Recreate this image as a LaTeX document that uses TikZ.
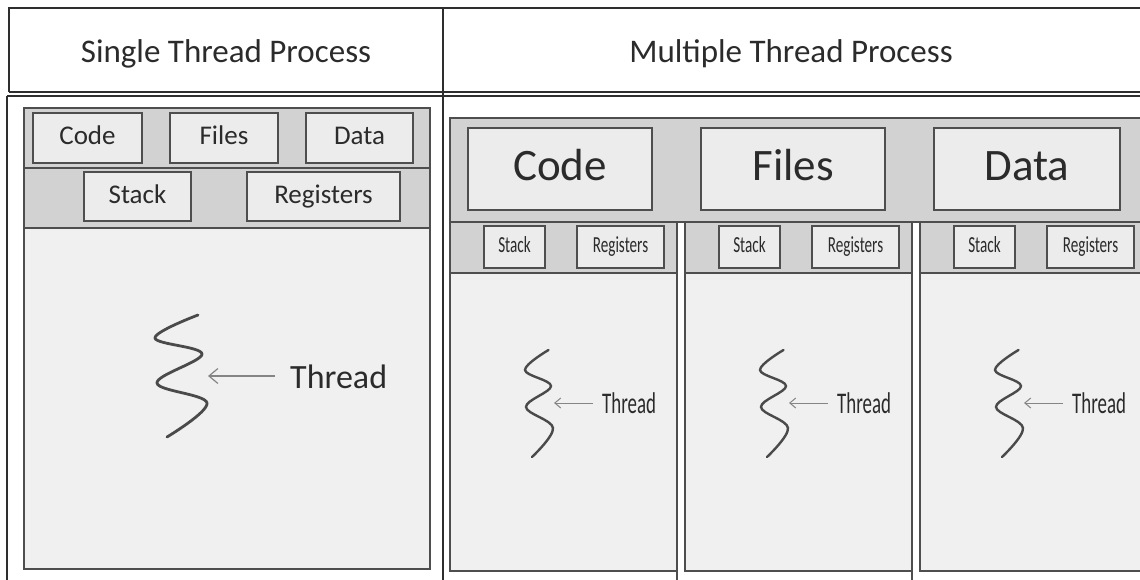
\documentclass[tikz,border=0pt]{standalone}
\usepackage{fontspec}
\setmainfont{Carlito}
\usetikzlibrary{arrows.meta}

\definecolor{ink}{HTML}{2B2B2B}
\definecolor{frame}{HTML}{2E2E2E}
\definecolor{boxline}{HTML}{4E4E4E}
\definecolor{band}{HTML}{D2D2D2}
\definecolor{pane}{HTML}{F0F0F0}
\definecolor{cell}{HTML}{ECECEC}
\definecolor{squig}{HTML}{4A4A4A}
\definecolor{pointer}{HTML}{858585}

% condensed lettering used inside the thread columns
\newcommand{\slim}[1]{\scalebox{0.66}[1]{#1}}

\begin{document}
\begin{tikzpicture}[x=1pt,y=-1pt,
  title/.style={text=ink, inner sep=0pt, font=\fontsize{33}{36}\selectfont},
  cellbox/.style={draw=boxline, line width=1.3pt, fill=cell, text=ink, inner sep=0pt},
  midcell/.style={cellbox, font=\fontsize{27}{30}\selectfont, text height=19pt, text depth=5pt},
  bigcell/.style={cellbox, font=\fontsize{45}{50}\selectfont, text height=31.5pt, text depth=8.5pt},
  smallcell/.style={cellbox, line width=1.1pt, font=\fontsize{23}{26}\selectfont, text height=16pt, text depth=4.3pt},
  threadtext/.style={text=ink, inner sep=0pt},
  pointer/.style={draw=pointer, line width=1.2pt, -{Straight Barb[length=9pt,width=15pt,line width=1.2pt]}},
  smallpointer/.style={draw=pointer, line width=1pt, -{Straight Barb[length=6pt,width=10pt,line width=1pt]}},
  squiggle/.style={draw=squig, line width=2.8pt, line cap=round},
  paneline/.style={draw=boxline, line width=1.2pt},
  frameline/.style={draw=frame, line width=1.5pt}
]
\clip (0,0) rectangle (1140,580);
\fill[white] (0,0) rectangle (1140,580);

% ---------- table frame ----------
\draw[frameline] (9,92) -- (9,8) -- (1145,8);
\draw[frameline, line width=2pt] (9,92) -- (1145,92);
\draw[frameline, line width=1.1pt] (7,96) -- (1145,96);
\draw[frameline] (7,96) -- (7,585);
\draw[frameline] (443,8) -- (443,585);

\node[title, anchor=base] (hsingle) at (226,63) {Single Thread Process};
\node[title, anchor=base] (hmulti) at (791,63) {Multiple Thread Process};

% ---------- single thread process ----------
\fill[band] (24,108) rectangle (430,228);
\fill[pane] (24,228) rectangle (430,569);
\draw[paneline] (24,168) -- (430,168);
\draw[paneline] (24,228) -- (430,228);
\draw[paneline] (24,108) rectangle (430,569);

\node[midcell, minimum width=109pt, minimum height=50pt] (code0) at (87.5,138) {Code};
\node[midcell, minimum width=108pt, minimum height=50pt] (files0) at (224,138) {Files};
\node[midcell, minimum width=107pt, minimum height=50pt] (data0) at (359.5,138) {Data};
\node[midcell, minimum width=107pt, minimum height=49pt] (stack0) at (137.5,196.5) {Stack};
\node[midcell, minimum width=153pt, minimum height=49pt] (regs0) at (323.5,196.5) {Registers};

\draw[squiggle] plot[smooth, tension=0.6] coordinates
  {(198,315) (155,338) (202,354) (157,383) (207,403) (167,437)};
\coordinate (tip0) at (208,376);
\node[threadtext, font=\fontsize{34}{38}\selectfont, anchor=base west] (thr0) at (290,388) {Thread};
\draw[pointer] ([xshift=-15pt]thr0.west |- tip0) -- (tip0);

% ---------- multiple thread process ----------
\fill[band] (450,118) rectangle (1150,222);
\draw[paneline] (1150,118) -- (450,118) -- (450,222) -- (1150,222);

\node[bigcell, minimum width=184pt, minimum height=82pt] (codeS) at (560,169) {Code};
\node[bigcell, minimum width=184pt, minimum height=82pt] (filesS) at (793,169) {Files};
\node[bigcell, minimum width=186pt, minimum height=82pt] (dataS) at (1027,169) {Data};

\foreach \o [count=\i] in {0,235,470} {
  \fill[band] ({450+\o},222) rectangle ({677+\o},273);
  \fill[pane] ({450+\o},273) rectangle ({677+\o},571);
  \draw[paneline] ({450+\o},273) -- ({677+\o},273);
  \draw[paneline] ({450+\o},222) rectangle ({677+\o},571);
  \draw[paneline] ({677+\o},571) -- ({677+\o},585);

  \node[smallcell, minimum width=61pt, minimum height=42pt] (stack\i) at ({514.5+\o},247) {\slim{Stack}};
  \node[smallcell, minimum width=87pt, minimum height=42pt] (regs\i) at ({620.5+\o},247) {\slim{Registers}};

  \draw[squiggle, line width=2.4pt] plot[smooth, tension=0.6] coordinates
    {({548.5+\o},350) ({525+\o},370) ({551+\o},386) ({526+\o},407) ({553+\o},428) ({532+\o},457)};
  \coordinate (tip\i) at ({554+\o},403);
  \node[threadtext, font=\fontsize{30}{34}\selectfont, anchor=base west] (thr\i) at ({602+\o},413) {\scalebox{0.63}[1]{Thread}};
  \draw[smallpointer] ([xshift=-9pt]thr\i.west |- tip\i) -- (tip\i);
}
\end{tikzpicture}
\end{document}
